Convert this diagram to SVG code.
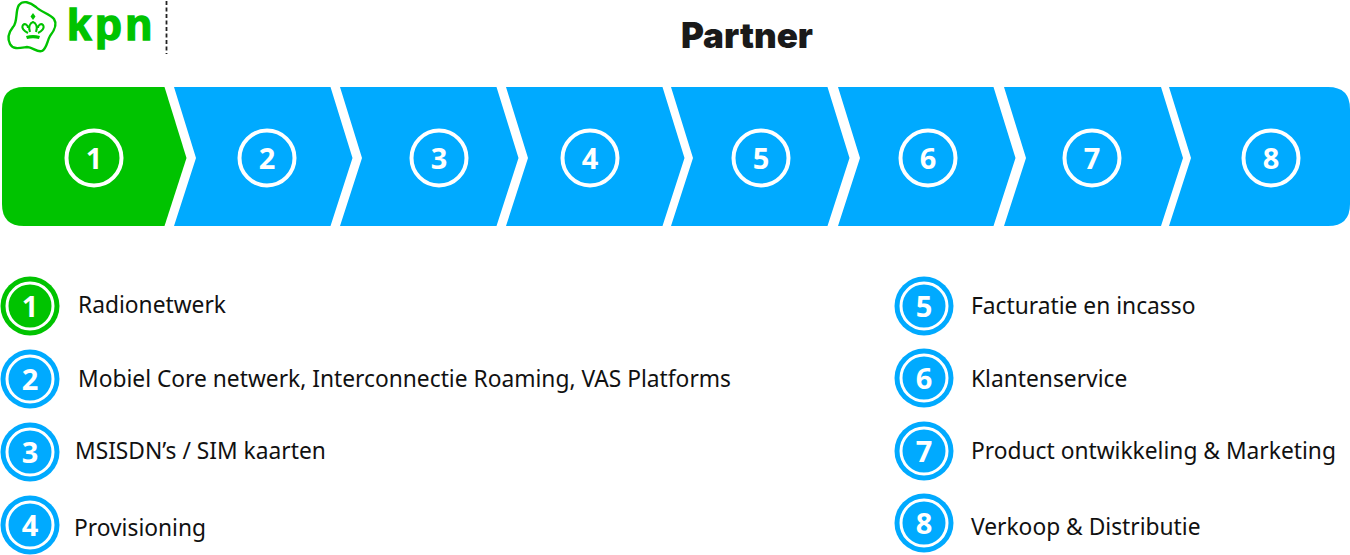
<svg xmlns="http://www.w3.org/2000/svg" width="1350" height="555" viewBox="0 0 1350 555">
<style>
.g{fill:#00c300}.b{fill:#00aaff}
.n{font-family:"Noto Sans","Liberation Sans",sans-serif;font-weight:700;fill:#fff;text-anchor:middle}
.top{font-size:29px}.leg{font-size:29px}
.ring{fill:none;stroke:#fff;stroke-width:4}
.t{font-family:"Noto Sans","Liberation Sans",sans-serif;font-size:22.770px;fill:#111}
.lo{fill:none;stroke:#fff;stroke-width:3}
</style>
<rect width="1350" height="555" fill="#fff"/>
<g id="logo">
<path d="M19 5C23 0 30 2 36 7C41 12 50 14 54 19C58 25 54 31 50 36C47 41 47 48 42 51C37 53 33 47 27 47C20 48 13 50 10 44C7 38 9 32 13 27C18 22 15 11 19 5Z" fill="none" stroke="#00c300" stroke-width="2.400"/>
<path d="M33 13l2.500 3.500-2.500 3.500-2.500-3.500z" fill="#00c300"/>
<path d="M28 33C24 31 21 28 23 25C25 23 28 25 28 28M38 33C42 31 45 28 43 25C41 23 38 25 38 28M30 32C28 27 30 23 33 22C36 23 38 27 36 32" fill="none" stroke="#00c300" stroke-width="2"/>
<path d="M26 36Q33 34 40 36L39 39Q33 37.500 27 39Z" fill="#00c300"/>
<text x="67" y="40" font-family="'Liberation Sans',sans-serif" font-size="44" font-weight="700" letter-spacing="3.500" stroke="#00c300" stroke-width="1.500" class="g">kpn</text>
<line x1="166.500" y1="1" x2="166.500" y2="54" stroke="#222" stroke-width="1.800" stroke-dasharray="4 2.500"/>
</g>
<g id="title"><text x="747" y="48" text-anchor="middle" font-family="Inter,'Liberation Sans',sans-serif" font-size="35" font-weight="900" fill="#1a1a1a">Partner</text></g>
<g id="step1"><path class="g" d="M24 87H164.500L186.500 158L164.500 226H24Q2 226 2 204V109Q2 87 24 87Z"/><circle class="ring" cx="94" cy="158" r="27.500"/><text class="n top" x="94" y="168.500">1</text></g>
<g id="step2"><path class="b" d="M174 87H330.500L352.500 158L330.500 226H174L196 158Z"/><circle class="ring" cx="267" cy="158" r="27.500"/><text class="n top" x="267" y="168.500">2</text></g>
<g id="step3"><path class="b" d="M340 87H496.500L518.500 158L496.500 226H340L362 158Z"/><circle class="ring" cx="439" cy="158" r="27.500"/><text class="n top" x="439" y="168.500">3</text></g>
<g id="step4"><path class="b" d="M506 87H662.500L684.500 158L662.500 226H506L528 158Z"/><circle class="ring" cx="590" cy="158" r="27.500"/><text class="n top" x="590" y="168.500">4</text></g>
<g id="step5"><path class="b" d="M671 87H827.500L849.500 158L827.500 226H671L693 158Z"/><circle class="ring" cx="761" cy="158" r="27.500"/><text class="n top" x="761" y="168.500">5</text></g>
<g id="step6"><path class="b" d="M838 87H993.500L1015.500 158L993.500 226H838L860 158Z"/><circle class="ring" cx="928" cy="158" r="27.500"/><text class="n top" x="928" y="168.500">6</text></g>
<g id="step7"><path class="b" d="M1004 87H1161L1183 158L1161 226H1004L1026 158Z"/><circle class="ring" cx="1092" cy="158" r="27.500"/><text class="n top" x="1092" y="168.500">7</text></g>
<g id="step8"><path class="b" d="M1169 87H1328Q1350 87 1350 109V204Q1350 226 1328 226H1169L1191 158Z"/><circle class="ring" cx="1271" cy="158" r="27.500"/><text class="n top" x="1271" y="168.500">8</text></g>
<g id="item1"><circle class="g" cx="30" cy="306" r="29.500"/><circle class="lo" cx="30" cy="306" r="23"/><text class="n leg" x="30" y="316.500">1</text><text class="t" x="78" y="313">Radionetwerk</text></g>
<g id="item2"><circle class="b" cx="30" cy="379" r="29.500"/><circle class="lo" cx="30" cy="379" r="23"/><text class="n leg" x="30" y="389.500">2</text><text class="t" x="78" y="387">Mobiel Core netwerk, Interconnectie Roaming, VAS Platforms</text></g>
<g id="item3"><circle class="b" cx="30" cy="452" r="29.500"/><circle class="lo" cx="30" cy="452" r="23"/><text class="n leg" x="30" y="462.500">3</text><text class="t" x="75" y="459">MSISDN’s / SIM kaarten</text></g>
<g id="item4"><circle class="b" cx="30" cy="525" r="29.500"/><circle class="lo" cx="30" cy="525" r="23"/><text class="n leg" x="30" y="535.500">4</text><text class="t" x="74" y="536">Provisioning</text></g>
<g id="item5"><circle class="b" cx="924" cy="306" r="29.500"/><circle class="lo" cx="924" cy="306" r="23"/><text class="n leg" x="924" y="316.500">5</text><text class="t" x="971" y="314">Facturatie en incasso</text></g>
<g id="item6"><circle class="b" cx="924" cy="378" r="29.500"/><circle class="lo" cx="924" cy="378" r="23"/><text class="n leg" x="924" y="388.500">6</text><text class="t" x="971" y="387">Klantenservice</text></g>
<g id="item7"><circle class="b" cx="924" cy="451" r="29.500"/><circle class="lo" cx="924" cy="451" r="23"/><text class="n leg" x="924" y="461.500">7</text><text class="t" x="971" y="459">Product ontwikkeling &amp; Marketing</text></g>
<g id="item8"><circle class="b" cx="924" cy="523" r="29.500"/><circle class="lo" cx="924" cy="523" r="23"/><text class="n leg" x="924" y="533.500">8</text><text class="t" x="971" y="535">Verkoop &amp; Distributie</text></g>
</svg>
